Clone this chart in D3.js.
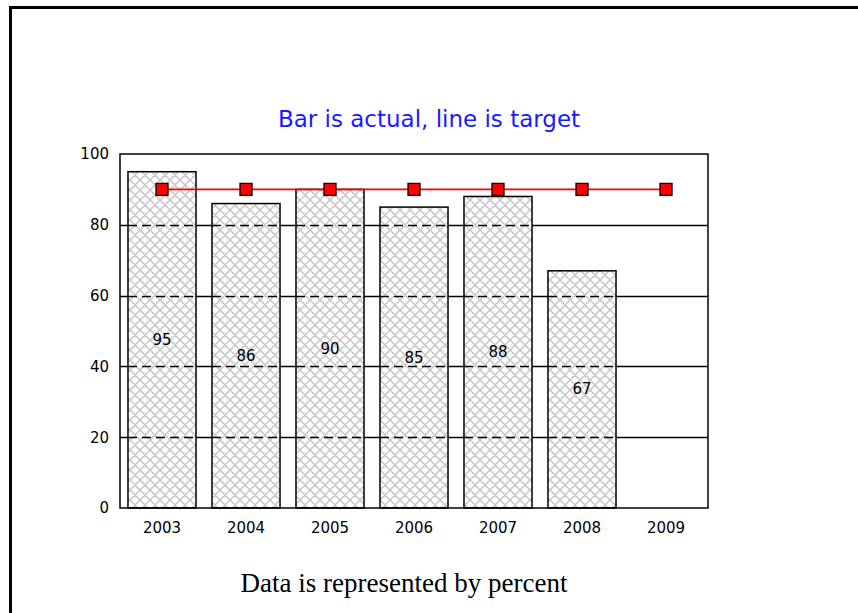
<!DOCTYPE html>
<html>
<head>
<meta charset="utf-8">
<script src="https://cdn.jsdelivr.net/npm/d3@7"></script>
<style>
  body { margin: 0; background: #fff; }
  svg { display: block; }
</style>
</head>
<body>
<div id="vis"></div>
<script>
// chart values
var years = ["2003", "2004", "2005", "2006", "2007", "2008", "2009"];
var actual = [95, 86, 90, 85, 88, 67, null];
var target = [90, 90, 90, 90, 90, 90, 90];
var yTicks = [0, 20, 40, 60, 80, 100];

var width = 858, height = 613;
var plot = { left: 120, top: 154, right: 708, bottom: 508 };

var svg = d3.select("#vis").append("svg")
    .attr("width", width)
    .attr("height", height);

// hatch pattern
var defs = svg.append("defs");
var pat = defs.append("pattern")
    .attr("id", "hatch")
    .attr("patternUnits", "userSpaceOnUse")
    .attr("width", 10)
    .attr("height", 10);
pat.append("rect").attr("width", 10).attr("height", 10).style("fill", "#fff");
pat.append("path")
    .attr("d", "M0,0L10,10M10,0L0,10M-1,9L1,11M9,-1L11,1M-1,1L1,-1M9,11L11,9")
    .style("stroke", "#c6c6c6")
    .style("stroke-width", 1.5);

// outer frame (runs off the page right and bottom)
svg.append("rect")
    .attr("x", 10.5)
    .attr("y", 7.5)
    .attr("width", 900)
    .attr("height", 700)
    .style("fill", "none")
    .style("stroke", "#000")
    .style("stroke-width", 3);

var x = d3.scaleBand()
    .domain(years)
    .range([plot.left, plot.right])
    .paddingInner(0.19)
    .paddingOuter(0.095);

var y = d3.scaleLinear()
    .domain([0, 100])
    .range([plot.bottom, plot.top]);

// title
svg.append("text")
    .attr("x", 429)
    .attr("y", 127)
    .attr("text-anchor", "middle")
    .style("font-family", "'DejaVu Sans', sans-serif")
    .style("font-size", "23px")
    .style("fill", "#1a1aff")
    .text("Bar is actual, line is target");

// solid gridlines
svg.append("g").selectAll("line")
    .data(yTicks.slice(1, -1))
    .join("line")
    .attr("x1", plot.left)
    .attr("x2", plot.right)
    .attr("y1", function(d) { return Math.round(y(d)) + 0.5; })
    .attr("y2", function(d) { return Math.round(y(d)) + 0.5; })
    .style("stroke", "#000")
    .style("stroke-width", 1.3);

// bars
var barData = years.map(function(yr, i) { return { year: yr, value: actual[i] }; })
    .filter(function(d) { return d.value !== null; });

svg.append("g").selectAll("rect")
    .data(barData)
    .join("rect")
    .attr("x", function(d) { return x(d.year); })
    .attr("y", function(d) { return y(d.value); })
    .attr("width", x.bandwidth())
    .attr("height", function(d) { return y(0) - y(d.value); })
    .style("fill", "url(#hatch)")
    .style("stroke", "#000")
    .style("stroke-width", 1.5);

// dashed gridlines inside bars
barData.forEach(function(d) {
  yTicks.slice(1, -1).filter(function(t) { return t < d.value; }).forEach(function(t) {
    svg.append("line")
        .attr("x1", x(d.year))
        .attr("x2", x(d.year) + x.bandwidth())
        .attr("y1", Math.round(y(t)) + 0.5)
        .attr("y2", Math.round(y(t)) + 0.5)
        .style("stroke", "#000")
        .style("stroke-width", 1.3)
        .style("stroke-dasharray", "9,5");
  });
});

// value labels at bar middle
svg.append("g").selectAll("text")
    .data(barData)
    .join("text")
    .attr("x", function(d) { return x(d.year) + x.bandwidth() / 2; })
    .attr("y", function(d) { return (y(d.value) + y(0)) / 2 + 5; })
    .attr("text-anchor", "middle")
    .style("font-family", "'DejaVu Sans', sans-serif")
    .style("font-size", "15px")
    .style("fill", "#000")
    .text(function(d) { return d.value; });

// plot frame
svg.append("rect")
    .attr("x", plot.left)
    .attr("y", plot.top)
    .attr("width", plot.right - plot.left)
    .attr("height", plot.bottom - plot.top)
    .style("fill", "none")
    .style("stroke", "#000")
    .style("stroke-width", 1.5);

// target line
var lineData = years.map(function(yr, i) { return { year: yr, value: target[i] }; });
var cx = function(d) { return x(d.year) + x.bandwidth() / 2; };

svg.append("path")
    .datum(lineData)
    .attr("d", d3.line().x(cx).y(function(d) { return y(d.value); }))
    .style("fill", "none")
    .style("stroke", "#ff0000")
    .style("stroke-width", 1.8);

svg.append("g").selectAll("rect")
    .data(lineData)
    .join("rect")
    .attr("x", function(d) { return cx(d) - 6; })
    .attr("y", function(d) { return y(d.value) - 6; })
    .attr("width", 12)
    .attr("height", 12)
    .style("fill", "#ff0000")
    .style("stroke", "#000")
    .style("stroke-width", 1.3);

// axes
var yAxis = svg.append("g")
    .attr("transform", "translate(" + (plot.left - 11) + ",0)")
    .call(d3.axisLeft(y).tickValues(yTicks).tickSize(0).tickPadding(0));
yAxis.select(".domain").remove();

var xAxis = svg.append("g")
    .attr("transform", "translate(0," + (plot.bottom + 12) + ")")
    .call(d3.axisBottom(x).tickSize(0).tickPadding(2));
xAxis.select(".domain").remove();

svg.selectAll(".tick text")
    .style("font-family", "'DejaVu Sans', sans-serif")
    .style("font-size", "15px")
    .style("fill", "#000");

// footer
svg.append("text")
    .attr("x", 404)
    .attr("y", 592)
    .attr("text-anchor", "middle")
    .style("font-family", "'Liberation Serif', 'Times New Roman', serif")
    .style("font-size", "27px")
    .style("fill", "#000")
    .text("Data is represented by percent");
</script>
</body>
</html>
